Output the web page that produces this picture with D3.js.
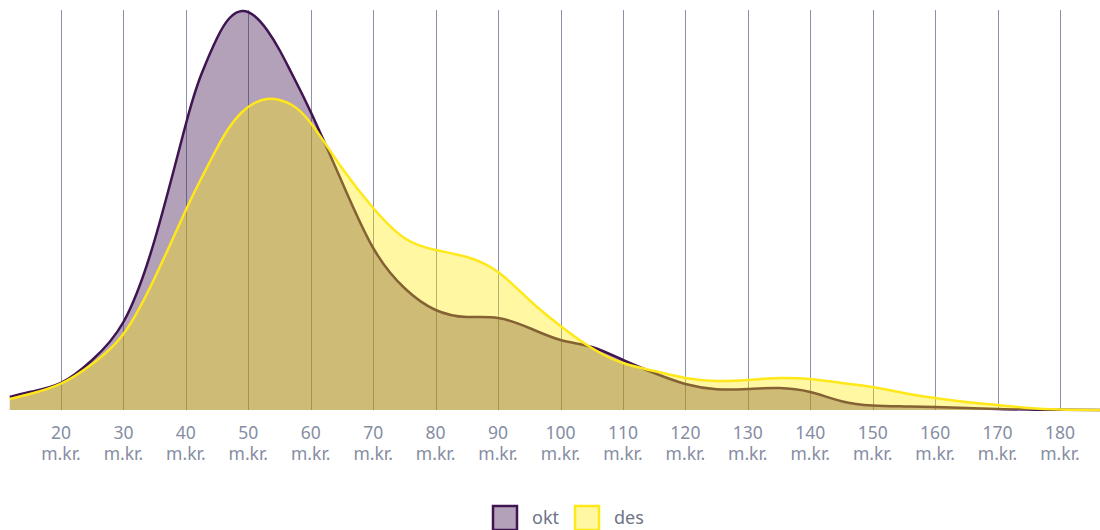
<!DOCTYPE html>
<html><head><meta charset="utf-8">
<script src="https://cdn.jsdelivr.net/npm/d3@7"></script>
<style>body{margin:0;background:#fff}svg{display:block}</style>
</head><body><svg id="c" width="1100" height="530"></svg>
<script>
const xs   = [11.8,15,20,25,30,35,40,42.5,45,47,49,51,53,55,57,60,65,70,75,80,85,90,95,100,105,110,115,120,125,130,135,140,145,150,155,160,165,170,175,180,186.4];
const okt  = [3.25,4.5,6.75,12.5,22,42.5,71.5,84,93,98,99.75,98.5,95,90,84,74.5,57,40.5,30.5,25,23.25,23,20.5,17.5,15.75,12.5,9.25,6.5,5.2,5.25,5.5,4.5,2.2,1.1,0.9,0.75,0.5,0.25,0.1,0.05,0];
const des  = [2.75,4,6.6,11.5,19,33,50,58,65.5,70.75,74.5,76.75,77.75,77.5,76.25,71.75,60.5,50.5,43,40,38.25,34.5,27.5,21,15.5,11.75,9.75,8,7.25,7.5,8,7.75,6.75,5.75,4.25,3,2,1.25,0.5,0.12,0];
const ticks = [20,30,40,50,60,70,80,90,100,110,120,130,140,150,160,170,180];
const seriesNames = ["okt","des"];
const unit = "m.kr.";

const svg = d3.select("#c");
const x = d3.scaleLinear().domain([20,180]).range([61,1060]);
const y = d3.scaleLinear().domain([0,100]).range([410,10]);

svg.append("g").selectAll("line").data(ticks).join("line")
  .attr("x1",d=>Math.round(x(d))+0.5).attr("x2",d=>Math.round(x(d))+0.5)
  .attr("y1",10).attr("y2",410).attr("stroke","#8a91a8").attr("stroke-width",1);

const styles = {okt:{fill:"rgb(62,20,81)",op:0.4,stroke:"#3e1451"},des:{fill:"rgb(255,234,0)",op:0.37,stroke:"#ffe81a"}};
const data = {okt, des};
const curve = d3.curveNatural;
seriesNames.forEach(n=>{
  const pts = xs.map((v,i)=>[v,data[n][i]]);
  const area = d3.area().x(d=>x(d[0])).y0(y(0)).y1(d=>y(d[1])).curve(curve);
  const line = d3.line().x(d=>x(d[0])).y(d=>y(d[1])).curve(curve);
  svg.append("path").attr("d",area(pts)).attr("fill",styles[n].fill).attr("fill-opacity",styles[n].op);
  svg.append("path").attr("d",line(pts)).attr("fill","none").attr("stroke",styles[n].stroke).attr("stroke-width",2.5);
});

const lab = svg.append("g").attr("font-family","Noto Sans, sans-serif").attr("font-size",17.5).attr("fill","#868da3").attr("text-anchor","middle");
ticks.forEach(t=>{
  lab.append("text").attr("x",x(t)).attr("y",439).text(t);
  lab.append("text").attr("x",x(t)).attr("y",460).text(unit);
});

const leg = svg.append("g").attr("font-family","Noto Sans, sans-serif").attr("font-size",18).attr("fill","#6d7487");
const lx = [493,575];
seriesNames.forEach((n,i)=>{
  leg.append("rect").attr("x",lx[i]).attr("y",506).attr("width",24).attr("height",24)
    .attr("fill",styles[n].fill).attr("fill-opacity",styles[n].op)
    .attr("stroke",styles[n].stroke).attr("stroke-width",2.5);
  leg.append("text").attr("x",lx[i]+39).attr("y",524).text(n);
});
</script></body></html>
